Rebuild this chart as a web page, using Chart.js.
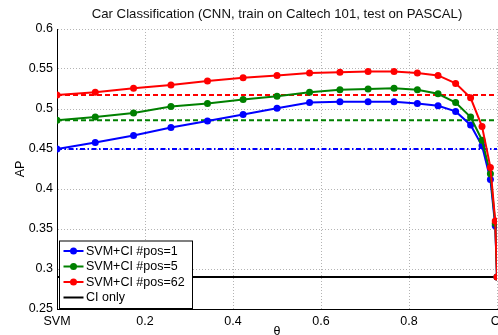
<!DOCTYPE html>
<html>
<head>
<meta charset="utf-8">
<script src="https://cdn.jsdelivr.net/npm/chart.js@4/dist/chart.umd.min.js"></script>
<style>
  html, body { margin: 0; padding: 0; background: #fff; overflow: hidden; }
  #wrap { width: 498px; height: 335px; overflow: hidden; }
  canvas { display: block; }
</style>
</head>
<body>
<div id="wrap"><canvas id="apChart" width="520" height="335"></canvas></div>
<script>
// x positions (theta) of the markers
const theta = [0, 0.087, 0.174, 0.259, 0.342, 0.423, 0.5, 0.574, 0.643, 0.707, 0.766, 0.819, 0.866, 0.906, 0.940, 0.966, 0.985, 0.996, 1];

// AP for each number of positives
const pos1 = [0.450, 0.458, 0.467, 0.477, 0.485, 0.493, 0.501, 0.508, 0.509, 0.509, 0.509, 0.507, 0.504, 0.497, 0.480, 0.454, 0.412, 0.354, 0.290];
const pos5 = [0.486, 0.490, 0.495, 0.503, 0.507, 0.512, 0.516, 0.521, 0.524, 0.525, 0.526, 0.524, 0.519, 0.508, 0.490, 0.461, 0.419, 0.357, 0.290];
const pos62 = [0.5175, 0.521, 0.526, 0.530, 0.535, 0.539, 0.542, 0.545, 0.546, 0.547, 0.547, 0.545, 0.542, 0.532, 0.514, 0.478, 0.427, 0.360, 0.290];

// SVM-only levels (dashed) and the CI-only level
const svmPos1 = 0.45;
const svmPos5 = 0.486;
const svmPos62 = 0.5175;
const ciOnly = 0.29;

const xTickLabels = ['SVM', '0.2', '0.4', '0.6', '0.8', 'CI'];
const yTickLabels = ['0.25', '0.3', '0.35', '0.4', '0.45', '0.5', '0.55', '0.6'];
const legendLabels = ['SVM+CI #pos=1', 'SVM+CI #pos=5', 'SVM+CI #pos=62', 'CI only'];
const chartTitle = 'Car Classification (CNN, train on Caltech 101, test on PASCAL)';

const FONT = '"Liberation Sans", Arial, sans-serif';
const BLUE = '#0000ff', GREEN = '#008000', RED = '#ff0000', BLACK = '#000000';

const xMin = theta[0];
const xMax = theta[theta.length - 1];

const toPoints = (vals) => theta.map((t, i) => ({ x: t, y: vals[i] }));
const flat = (v) => [{ x: xMin, y: v }, { x: xMax, y: v }];

const curve = (vals, color) => ({
    data: toPoints(vals),
    borderColor: color,
    backgroundColor: color,
    borderWidth: 2,
    pointRadius: 3.5,
    pointBorderWidth: 0,
    tension: 0
});
const level = (v, color, dash) => ({
    data: flat(v),
    borderColor: color,
    borderWidth: 2,
    borderDash: dash,
    pointRadius: 0,
    tension: 0
});

// title centred over the plot area
const titlePlugin = {
    id: 'plotTitle',
    afterDraw(chart) {
        const { ctx, chartArea } = chart;
        ctx.save();
        ctx.font = '13.2px ' + FONT;
        ctx.fillStyle = '#111';
        ctx.textAlign = 'center';
        ctx.textBaseline = 'middle';
        ctx.fillText(chartTitle, (chartArea.left + chartArea.right) / 2, 14);
        ctx.restore();
    }
};

// boxed legend in the lower left corner of the axes
const boxLegend = {
    id: 'boxLegend',
    afterDraw(chart) {
        const { ctx, chartArea } = chart;
        const colors = [BLUE, GREEN, RED, BLACK];
        const left = chartArea.left + 2.5;
        const top = chartArea.bottom - 68;
        const w = 133, h = 67.5;
        ctx.save();
        ctx.fillStyle = '#fff';
        ctx.fillRect(left, top, w, h);
        ctx.strokeStyle = '#000';
        ctx.lineWidth = 1;
        ctx.strokeRect(left, top, w, h);
        ctx.font = '12.5px ' + FONT;
        ctx.textBaseline = 'middle';
        ctx.textAlign = 'left';
        legendLabels.forEach((lab, i) => {
            const y = top + 10 + i * 15.5;
            ctx.strokeStyle = colors[i];
            ctx.lineWidth = 2;
            ctx.beginPath();
            ctx.moveTo(left + 4, y);
            ctx.lineTo(left + 24, y);
            ctx.stroke();
            if (i < 3) {
                ctx.fillStyle = colors[i];
                ctx.beginPath();
                ctx.arc(left + 14, y, 3.5, 0, Math.PI * 2);
                ctx.fill();
            }
            ctx.fillStyle = '#000';
            ctx.fillText(lab, left + 26.5, y + 0.5);
        });
        ctx.restore();
    }
};

const ctx = document.getElementById('apChart').getContext('2d');
new Chart(ctx, {
    type: 'line',
    data: {
        datasets: [
            curve(pos62, RED),
            curve(pos5, GREEN),
            curve(pos1, BLUE),
            level(svmPos62, RED, [5, 3]),
            level(svmPos5, GREEN, [5, 3]),
            level(svmPos1, BLUE, [5, 2.5, 1.5, 2.5]),
            level(ciOnly, BLACK, [])
        ]
    },
    options: {
        responsive: false,
        animation: false,
        layout: { padding: { top: 29, right: 23, bottom: 0, left: 0 } },
        plugins: {
            legend: { display: false },
            tooltip: { enabled: false },
            title: { display: false }
        },
        scales: {
            x: {
                type: 'linear',
                min: 0,
                max: 1,
                afterFit: (s) => { s.height = 26; },
                ticks: {
                    stepSize: 0.2,
                    padding: 5,
                    color: '#000',
                    maxRotation: 0,
                    font: { family: FONT, size: 12.5 },
                    callback: (v, i) => xTickLabels[i]
                },
                grid: { color: '#b4b4b4', drawTicks: false },
                border: { color: '#000', width: 1, dash: [1, 2] },
                title: {
                    display: true,
                    text: 'θ',
                    color: '#000',
                    font: { family: FONT, size: 12.5, lineHeight: 1 },
                    padding: { top: 0, bottom: -3 }
                }
            },
            y: {
                min: 0.25,
                max: 0.6,
                afterFit: (s) => { s.width = 57; },
                ticks: {
                    stepSize: 0.05,
                    padding: 4,
                    color: '#000',
                    font: { family: FONT, size: 12.5 },
                    callback: (v, i) => yTickLabels[i]
                },
                grid: { color: '#b4b4b4', drawTicks: false },
                border: { color: '#000', width: 1, dash: [1, 2] },
                title: {
                    display: true,
                    text: 'AP',
                    color: '#000',
                    font: { family: FONT, size: 12.5, lineHeight: 1.2 },
                    padding: { top: 13, bottom: 0 }
                }
            }
        }
    },
    plugins: [titlePlugin, boxLegend]
});
</script>
</body>
</html>
